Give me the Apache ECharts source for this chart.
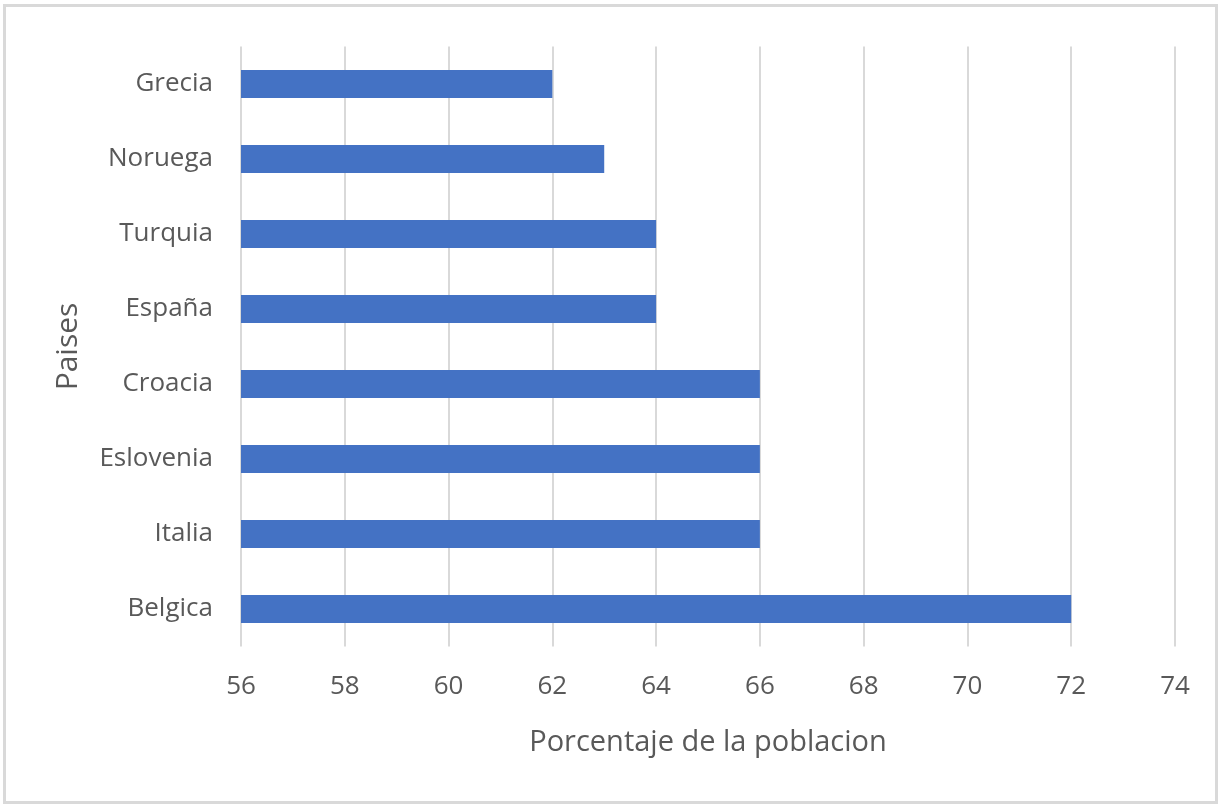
<!DOCTYPE html>
<html>
<head>
<meta charset="utf-8">
<script src="https://cdn.jsdelivr.net/npm/echarts@6/dist/echarts.min.js"></script>
<style>
html,body{margin:0;padding:0;background:#fff;}
#frame{position:absolute;left:3px;top:4px;width:1215px;height:800px;border:3px solid #d9d9d9;box-sizing:border-box;}
#chart{position:absolute;left:0;top:0;width:1225px;height:810px;}
</style>
</head>
<body>
<div id="frame"></div>
<div id="chart"></div>
<script>
const categories = ["Belgica","Italia","Eslovenia","Croacia","España","Turquia","Noruega","Grecia"];
const values = [72, 66, 66, 66, 64, 64, 63, 62];
const xMin = 56, xMax = 74, xStep = 2;
const xTitle = "Porcentaje de la poblacion";
const yTitle = "Paises";

const chart = echarts.init(document.getElementById('chart'));
const font = "'Open Sans', 'Liberation Sans', sans-serif";
chart.setOption({
  animation: false,
  grid: {left: 241, right: 50, top: 46.5, bottom: 163.5, containLabel: false},
  xAxis: {
    type: 'value', min: xMin, max: xMax, interval: xStep,
    name: xTitle, nameLocation: 'middle', nameGap: 82,
    nameTextStyle: {fontFamily: font, fontSize: 29, color: '#595959'},
    axisLine: {show: false}, axisTick: {show: false},
    axisLabel: {fontFamily: font, fontSize: 26, color: '#595959', margin: 27},
    splitLine: {show: true, lineStyle: {color: '#d9d9d9', width: 2}}
  },
  yAxis: {
    type: 'category', data: categories,
    name: yTitle, nameLocation: 'middle', nameGap: 158,
    nameTextStyle: {fontFamily: font, fontSize: 30, color: '#595959'},
    axisLine: {show: false}, axisTick: {show: false},
    axisLabel: {fontFamily: font, fontSize: 26, color: '#595959', margin: 28},
    splitLine: {show: false}
  },
  series: [{
    type: 'bar', data: values, barWidth: 28,
    itemStyle: {color: '#4472C4'}
  }]
});
</script>
</body>
</html>
